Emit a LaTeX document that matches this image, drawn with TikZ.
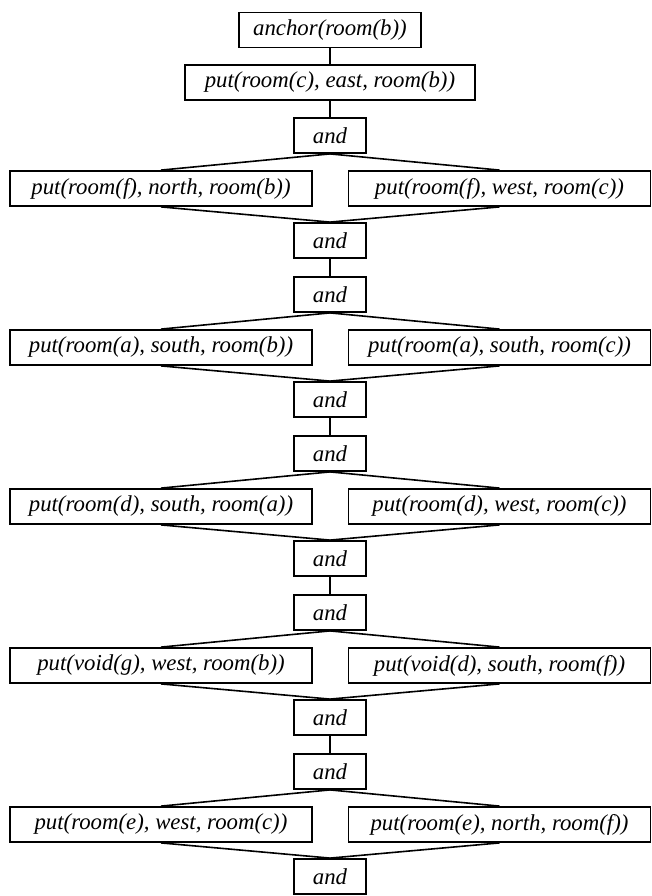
\documentclass[tikz,border=0pt]{standalone}
\usepackage{fontspec}
\setmainfont{Liberation Serif}
\begin{document}
\begin{tikzpicture}[x=1pt,y=-1pt,
  box/.style={draw, line width=1.8pt, inner sep=0pt, minimum height=35pt,
              font=\fontsize{22.8}{26}\selectfont\itshape},
  andbox/.style={box, minimum width=72pt},
  optbox/.style={box, minimum width=302pt},
  link/.style={line width=1.6pt}]
\useasboundingbox (0,0) rectangle (651,896);

% start of the plan
\node[box, minimum width=182pt] (anchor) at (330,30) {anchor(room(b))};
\node[box, minimum width=290pt] (putc) at (330,82.5) {put(room(c), east, room(b))};
\draw[link] (anchor) -- (putc);

% each stage: an "and" node, two alternative placements, a closing "and"
\foreach \i/\y/\lt/\rt in {
  1/188.5/{put(room(f), north, room(b))}/{put(room(f), west, room(c))},
  2/347.5/{put(room(a), south, room(b))}/{put(room(a), south, room(c))},
  3/506.5/{put(room(d), south, room(a))}/{put(room(d), west, room(c))},
  4/665.5/{put(void(g), west, room(b))}/{put(void(d), south, room(f))},
  5/824.5/{put(room(e), west, room(c))}/{put(room(e), north, room(f))}}
{
  \node[andbox] (top\i) at (330,\y-53) {and};
  \node[optbox] (L\i) at (161,\y) {\lt};
  \node[optbox] (R\i) at (499.5,\y) {\rt};
  \node[andbox] (bot\i) at (330,\y+52) {and};
  \draw[link] (top\i.south) -- (L\i.north)
              (top\i.south) -- (R\i.north)
              (L\i.south) -- (bot\i.north)
              (R\i.south) -- (bot\i.north);
}

% vertical links between stages
\draw[link] (putc) -- (top1);
\foreach \a/\b in {1/2,2/3,3/4,4/5}
  \draw[link] (bot\a) -- (top\b);
\end{tikzpicture}
\end{document}
